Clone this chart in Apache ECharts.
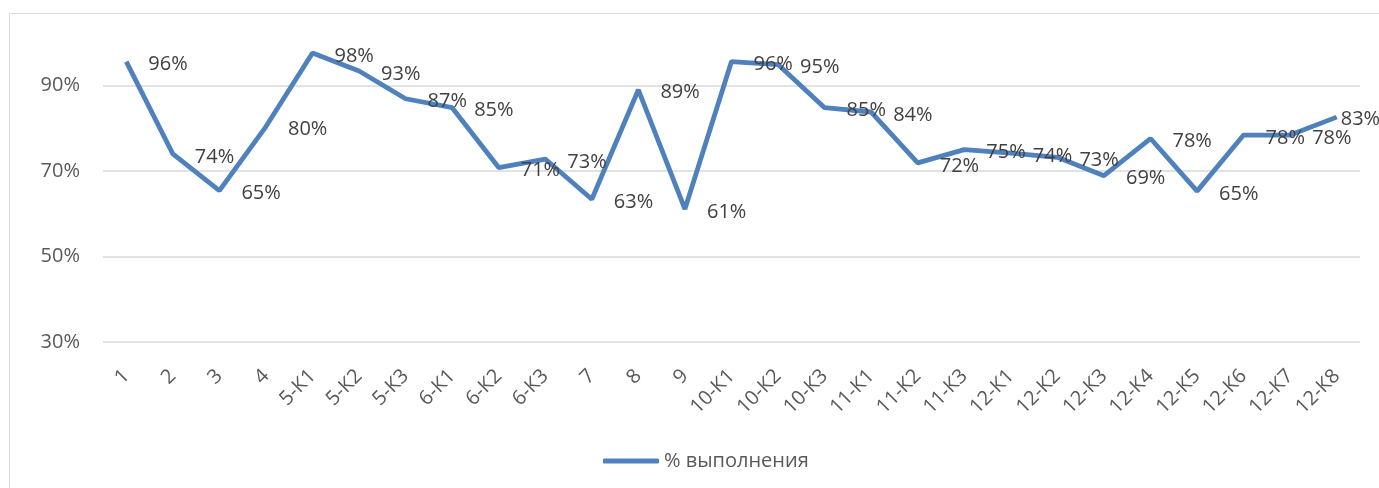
<!DOCTYPE html>
<html>
<head>
<meta charset="utf-8">
<script src="https://cdn.jsdelivr.net/npm/echarts@6/dist/echarts.min.js"></script>
<style>
	html, body { margin: 0; padding: 0; background: #fff; }
	#chart { width: 1379px; height: 488px; }
</style>
</head>
<body>
<div id="chart"></div>
<script>
// категории (номера заданий)
var categories = ['1', '2', '3', '4', '5-К1', '5-К2', '5-К3', '6-К1', '6-К2', '6-К3', '7', '8', '9',
	'10-К1', '10-К2', '10-К3', '11-К1', '11-К2', '11-К3', '12-К1', '12-К2', '12-К3', '12-К4',
	'12-К5', '12-К6', '12-К7', '12-К8'];
// % выполнения
var percentDone = [95.6, 74, 65.4, 80.4, 97.6, 93.4, 86.9, 84.8, 70.8, 72.8, 63.4, 89, 61.1,
	95.6, 94.9, 84.8, 83.8, 71.9, 75, 74.2, 73.2, 68.9, 77.6, 65.3, 78.4, 78.4, 82.6];
var seriesName = '% выполнения';
var yMin = 30, yMax = 110, yStep = 20;

var chartDom = document.getElementById('chart');
var myChart = echarts.init(chartDom);
var font = '"Open Sans", "Noto Sans", sans-serif';
var grey = '#d9d9d9';

var lineData = percentDone.map(function (v, i) {
	var item = { value: v };
	if (i === percentDone.length - 1) {
		item.label = { position: [4, 2] }; // последняя подпись прижата к точке
	}
	return item;
});

var option = {
	animation: false,
	backgroundColor: '#fff',
	textStyle: { fontFamily: font },
	graphic: [
		{
			type: 'rect',
			shape: { x: 9.5, y: 13.5, width: 1400, height: 500 },
			style: { fill: 'none', stroke: grey, lineWidth: 1 },
			silent: true,
			z: -10,
		},
	],
	grid: {
		left: 103,
		right: 19,
		top: -1,
		bottom: 146,
	},
	legend: {
		data: [seriesName],
		left: 598,
		top: 446,
		icon: 'roundRect',
		itemWidth: 56,
		itemHeight: 5,
		itemGap: 4,
		textStyle: { fontSize: 20, color: '#595959', fontFamily: font },
	},
	xAxis: {
		type: 'category',
		data: categories,
		boundaryGap: true,
		axisLine: { show: false },
		axisTick: { show: false },
		axisLabel: {
			rotate: 45,
			interval: 0,
			margin: 31,
			fontSize: 20,
			color: '#595959',
			fontFamily: font,
		},
	},
	yAxis: {
		type: 'value',
		min: yMin,
		max: yMax,
		interval: yStep,
		axisLine: { show: false },
		axisTick: { show: false },
		axisLabel: {
			formatter: '{value}%',
			showMaxLabel: false,
			margin: 23,
			fontSize: 20,
			color: '#595959',
			fontFamily: font,
		},
		// линия на 110% не нужна
		splitLine: { lineStyle: { color: [grey, grey, grey, grey, 'rgba(0,0,0,0)'], width: 1.5 } },
	},
	series: [
		{
			name: seriesName,
			type: 'line',
			data: lineData,
			symbol: 'circle',
			symbolSize: 0,
			showSymbol: true,
			lineStyle: { width: 4.8, color: '#4f81bd' },
			itemStyle: { color: '#4f81bd' },
			label: {
				show: true,
				position: [22, 3],
				align: 'left',
				verticalAlign: 'middle',
				fontSize: 20,
				color: '#404040',
				fontFamily: font,
				formatter: function (p) {
					return Math.round(p.value) + '%';
				},
			},
			labelLayout: { hideOverlap: false },
		},
	],
};
myChart.setOption(option);
</script>
</body>
</html>
